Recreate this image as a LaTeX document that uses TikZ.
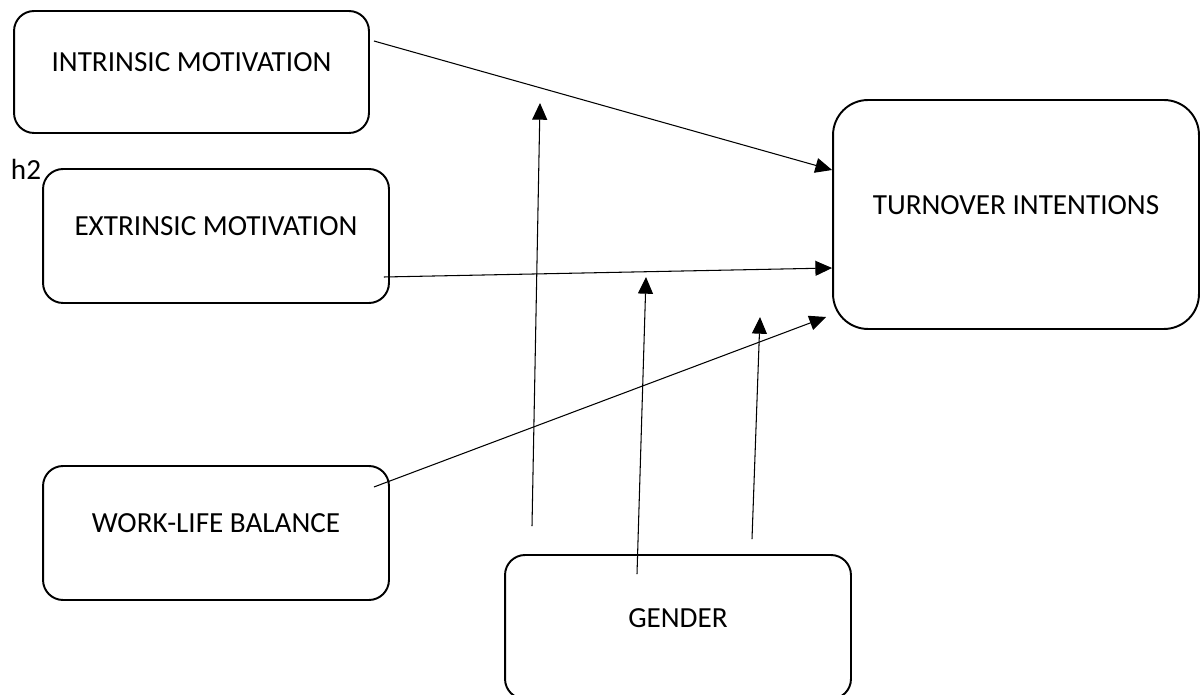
\documentclass[tikz,border=0pt]{standalone}
\usepackage{fontspec}
\setmainfont{Carlito}
\usetikzlibrary{arrows.meta}

\begin{document}
\begin{tikzpicture}[x=0.02cm, y=-0.02cm,
  every node/.style={font=\fontsize{16.6}{20}\selectfont},
  box/.style={draw, line width=1.1pt, rounded corners=0.4cm, inner sep=0pt, text height=11pt, text depth=11.5pt},
  link/.style={line width=0.6pt, -{Triangle[length=9.5pt, width=8.5pt]}}]
\useasboundingbox (0,0) rectangle (1200,695);
\node[box, minimum width=7.1cm, minimum height=2.44cm] (intr) at (191.5,72) {INTRINSIC MOTIVATION};
\node[box, minimum width=6.92cm, minimum height=2.68cm] (extr) at (216,236) {EXTRINSIC MOTIVATION};
\node[box, minimum width=6.92cm, minimum height=2.68cm] (wlb) at (216,533) {WORK-LIFE BALANCE};
\node[box, minimum width=6.92cm, minimum height=2.88cm, text depth=10pt] (gend) at (678,627) {GENDER};
\node[box, rounded corners=0.7cm, minimum width=7.32cm, minimum height=4.58cm] (turn) at (1016,214.5) {TURNOVER INTENTIONS};
\node (h2lbl) at (26,169) {h2};
% direct paths
\draw[link] ([shift={(4,-31)}]intr.east) -- ([shift={(0,-44.5)}]turn.west);
\draw[link] ([shift={(-6,41)}]extr.east) -- ([shift={(0,53.5)}]turn.west);
\draw[link] ([shift={(-16,-46)}]wlb.east) -- ([shift={(-6,102.5)}]turn.west);
% moderator
\coordinate (m1) at (540,103);
\coordinate (m2) at (646,277);
\coordinate (m3) at (760,317);
\foreach \dx/\dy/\tip in {-146/-28/m1, -41/20/m2, 74/-15/m3}
  \draw[link] ([shift={(\dx,\dy)}]gend.north) -- (\tip);
\end{tikzpicture}
\end{document}
